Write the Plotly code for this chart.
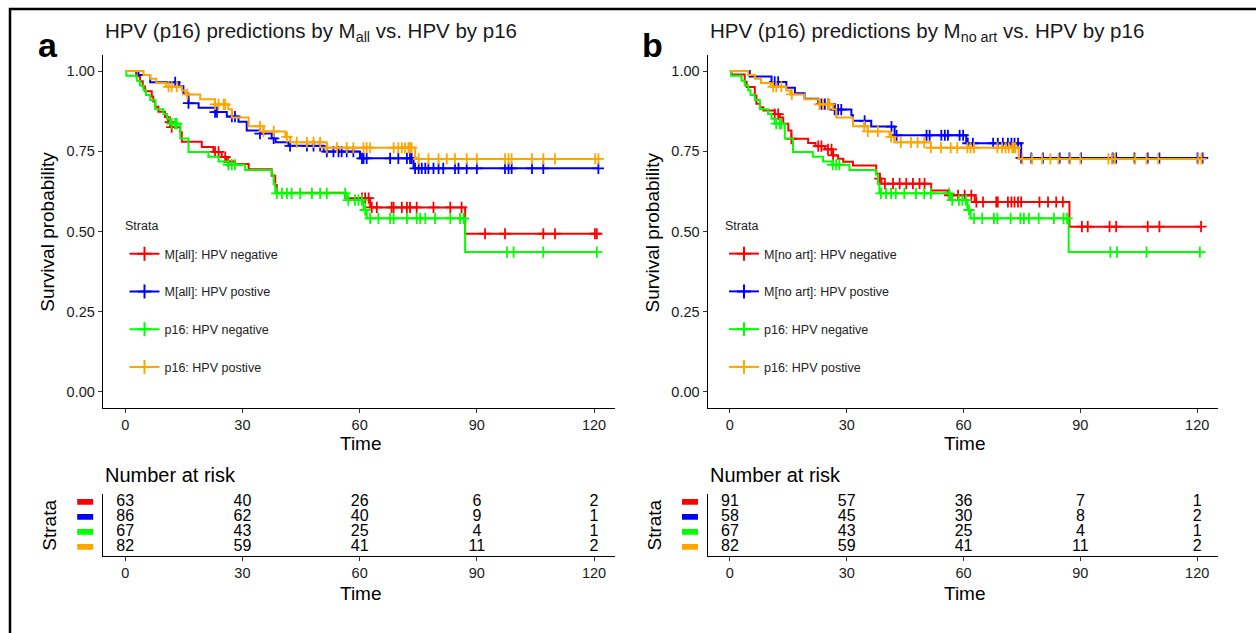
import plotly.graph_objects as go

W, H = 1256, 633
FONT = "Liberation Sans, Arial, sans-serif"

# ---------------- Kaplan-Meier data ----------------
# event times, survival just after each event, and censoring times

# M_all : HPV negative
mall_neg_t = [2.8, 3.8, 4.5, 5.1, 6.8, 7.2, 7.7, 8.5, 10.2, 11.0, 11.9, 14.1, 14.5, 19.6,
              22.6, 24.7, 26.0, 28.1, 31.6, 37.5, 38.4, 38.8, 56.3, 62.7, 87.0]
mall_neg_s = [0.984, 0.968, 0.952, 0.937, 0.921, 0.905, 0.889, 0.873, 0.857, 0.841, 0.825,
              0.809, 0.780, 0.763, 0.748, 0.732, 0.718, 0.710, 0.694, 0.674, 0.645, 0.621,
              0.604, 0.575, 0.493]
mall_neg_c = [11.5, 11.9, 23.0, 23.9, 25.6, 26.4, 60.6, 61.4, 62.3, 63.1, 64.4, 68.2, 68.7,
              70.8, 72.1, 72.9, 74.6, 78.9, 83.2, 86.1, 92.1, 97.2, 107.0, 110.0, 120.2, 120.7]

# M_all : HPV positive
mall_pos_t = [3.4, 6.4, 13.8, 14.9, 16.2, 18.8, 23.0, 26.0, 29.0, 31.1, 34.5, 37.5, 38.5,
              41.8, 50.8, 60.1, 73.8]
mall_pos_s = [0.988, 0.965, 0.953, 0.930, 0.900, 0.886, 0.872, 0.858, 0.842, 0.815, 0.805,
              0.790, 0.778, 0.767, 0.749, 0.728, 0.697]
mall_pos_c = [12.8, 16.2, 23.0, 23.5, 27.3, 28.1, 34.5, 38.0, 42.2, 46.5, 48.2, 49.9, 51.6,
              53.3, 54.6, 55.4, 56.7, 58.4, 60.6, 61.0, 61.8, 67.8, 69.9, 72.1, 72.9, 73.3,
              74.2, 75.1, 75.9, 76.8, 77.6, 78.9, 80.2, 81.4, 84.4, 85.3, 87.4, 90.0, 97.2,
              98.1, 98.9, 104.1, 107.0, 121.1]

# p16 : HPV negative
p16_neg_t = [0.3, 3.0, 3.8, 4.7, 5.3, 6.4, 7.7, 9.8, 10.7, 11.5, 14.1, 16.2, 21.3, 23.9,
             26.4, 30.7, 37.5, 38.0, 38.4, 56.7, 61.0, 61.8, 87.0]
p16_neg_s = [0.985, 0.970, 0.955, 0.940, 0.925, 0.910, 0.881, 0.866, 0.851, 0.836, 0.790,
             0.748, 0.733, 0.718, 0.708, 0.692, 0.678, 0.648, 0.619, 0.598, 0.567, 0.541, 0.436]
p16_neg_c = [11.9, 12.8, 13.2, 26.4, 27.3, 28.1, 38.8, 40.1, 41.4, 42.6, 44.8, 47.8, 49.9,
             51.6, 56.3, 57.1, 58.8, 59.7, 60.6, 61.4, 62.7, 64.8, 67.8, 68.7, 72.1, 74.6,
             75.5, 76.8, 79.3, 83.2, 85.7, 86.6, 97.7, 99.4, 107.0, 120.7]

# p16 : HPV positive
p16_pos_t = [4.7, 6.4, 8.0, 10.5, 14.5, 15.5, 19.2, 23.0, 26.4, 27.3, 31.6, 35.4, 41.0,
             42.2, 51.6, 74.2]
p16_pos_s = [0.988, 0.976, 0.963, 0.951, 0.939, 0.927, 0.912, 0.896, 0.881, 0.855, 0.828,
             0.812, 0.795, 0.778, 0.761, 0.726]
p16_pos_c = [11.1, 11.9, 13.2, 15.9, 23.0, 23.9, 25.2, 25.6, 34.5, 35.4, 38.0, 41.4, 43.9,
             46.5, 48.2, 49.9, 51.6, 54.2, 56.7, 58.4, 61.0, 61.8, 62.7, 68.7, 69.9, 70.8,
             71.6, 72.5, 72.9, 73.3, 75.1, 77.6, 80.2, 82.3, 84.4, 87.4, 90.0, 97.2, 98.1,
             98.9, 104.1, 107.0, 110.0, 120.3, 121.1]

# M_no art : HPV negative
noart_neg_t = [0.4, 3.8, 4.3, 6.4, 6.8, 7.7, 8.6, 11.5, 12.8, 13.7, 15.0, 15.8, 20.1, 22.0,
               24.4, 26.5, 27.8, 29.1, 31.6, 37.6, 38.5, 38.9, 51.7, 56.0, 62.9, 87.2]
noart_neg_s = [0.989, 0.967, 0.950, 0.924, 0.898, 0.887, 0.877, 0.866, 0.855, 0.836, 0.815,
               0.789, 0.776, 0.766, 0.756, 0.737, 0.727, 0.717, 0.706, 0.680, 0.665, 0.649,
               0.628, 0.613, 0.592, 0.515]
noart_neg_c = [11.5, 12.4, 15.8, 22.7, 23.5, 25.2, 26.1, 26.5, 38.5, 39.8, 41.9, 43.6, 45.3,
               47.0, 48.7, 50.0, 56.4, 58.6, 60.3, 62.0, 63.3, 65.0, 68.4, 68.8, 71.4, 72.3,
               73.1, 74.0, 74.8, 79.5, 81.7, 83.8, 85.5, 90.4, 91.9, 97.5, 99.2, 107.3, 110.3,
               121.0]

# M_no art : HPV positive
noart_pos_t = [5.1, 10.7, 14.5, 16.7, 19.2, 22.7, 26.9, 31.2, 31.6, 36.3, 42.3, 60.7, 74.8]
noart_pos_s = [0.983, 0.966, 0.948, 0.931, 0.914, 0.897, 0.880, 0.862, 0.845, 0.827, 0.800,
               0.775, 0.729]
noart_pos_c = [11.5, 12.4, 23.5, 24.4, 25.2, 26.9, 27.8, 28.6, 34.6, 41.5, 42.8, 50.5, 51.3,
               54.3, 55.2, 56.0, 59.0, 59.9, 61.1, 62.4, 67.6, 68.8, 70.1, 71.4, 72.3, 73.1,
               74.0, 74.8, 77.4, 80.4, 84.7, 87.2, 90.2, 98.3, 99.2, 103.9, 107.3, 110.3,
               120.1, 121.4]

# ---------------- numbers at risk ----------------
risk_times = [0, 30, 60, 90, 120]
risk_mall_neg = [63, 40, 26, 6, 2]
risk_mall_pos = [86, 62, 40, 9, 1]
risk_p16_neg = [67, 43, 25, 4, 1]
risk_p16_pos = [82, 59, 41, 11, 2]
risk_noart_neg = [91, 57, 36, 7, 1]
risk_noart_pos = [58, 45, 30, 8, 2]

RED, BLUE, GREEN, ORANGE = "#FF0000", "#0000FF", "#00FF00", "#FFA500"

xticks = [0, 30, 60, 90, 120]
yticks = [0, 0.25, 0.5, 0.75, 1.0]
ytick_text = ["0.00", "0.25", "0.50", "0.75", "1.00"]


def surv_at(t, times, surv):
    s = 1.0
    for ti, si in zip(times, surv):
        if ti <= t:
            s = si
        else:
            break
    return s


def px_x(p):
    return p / W


def px_y(p):
    return 1 - p / H


fig = go.Figure()

panels = [
    dict(tag="a", xa="x", ya="y", xt="x3", yt="y3", legend="legend", left=102.7, right=615.0,
         sub="all", leg_x=124.5, strata_x=123.0,
         series=[(mall_neg_t, mall_neg_s, mall_neg_c, RED, "M[all]: HPV negative", risk_mall_neg),
                 (mall_pos_t, mall_pos_s, mall_pos_c, BLUE, "M[all]: HPV postive", risk_mall_pos),
                 (p16_neg_t, p16_neg_s, p16_neg_c, GREEN, "p16: HPV negative", risk_p16_neg),
                 (p16_pos_t, p16_pos_s, p16_pos_c, ORANGE, "p16: HPV postive", risk_p16_pos)]),
    dict(tag="b", xa="x2", ya="y2", xt="x4", yt="y4", legend="legend2", left=707.5, right=1218.0,
         sub="no art", leg_x=724.0, strata_x=723.0,
         series=[(noart_neg_t, noart_neg_s, noart_neg_c, RED, "M[no art]: HPV negative", risk_noart_neg),
                 (noart_pos_t, noart_pos_s, noart_pos_c, BLUE, "M[no art]: HPV postive", risk_noart_pos),
                 (p16_neg_t, p16_neg_s, p16_neg_c, GREEN, "p16: HPV negative", risk_p16_neg),
                 (p16_pos_t, p16_pos_s, p16_pos_c, ORANGE, "p16: HPV postive", risk_p16_pos)]),
]

shapes = []
annotations = []
layout_axes = {}
legends = {}

PLOT_TOP, PLOT_BOT = 55.0, 408.0
TAB_TOP, TAB_BOT = 494.0, 555.7

legend_common = dict(font=dict(family=FONT, size=12.5, color="#222222"),
                     bgcolor="rgba(0,0,0,0)", borderwidth=0, tracegroupgap=18.5,
                     xanchor="left", yanchor="top", itemclick=False)

for k, p in enumerate(panels):
    for i, (t, s, c, col, label, risk) in enumerate(p["series"]):
        end = max(c + t)
        fig.add_trace(go.Scatter(
            x=[0] + t + [end], y=[1.0] + s + [s[-1]], mode="lines",
            line=dict(color=col, width=2, shape="hv"),
            xaxis=p["xa"], yaxis=p["ya"], showlegend=False, hoverinfo="skip"))
        fig.add_trace(go.Scatter(
            x=c, y=[surv_at(ci, t, s) for ci in c], mode="markers",
            marker=dict(symbol="cross-thin", size=8, line=dict(color=col, width=1.8)),
            xaxis=p["xa"], yaxis=p["ya"], showlegend=False, hoverinfo="skip"))
        # legend key
        fig.add_trace(go.Scatter(
            x=[None], y=[None], mode="lines+markers", name=label,
            line=dict(color=col, width=2),
            marker=dict(symbol="cross-thin", size=10, line=dict(color=col, width=2)),
            xaxis=p["xa"], yaxis=p["ya"], legend=p["legend"], legendgroup=f"{p['tag']}{i}",
            showlegend=True))
        # risk table row
        row = 4 - i
        fig.add_trace(go.Scatter(
            x=risk_times, y=[row] * len(risk_times), mode="text",
            text=[str(v) for v in risk], textposition="middle center",
            textfont=dict(family=FONT, size=16, color="#000000"),
            xaxis=p["xt"], yaxis=p["yt"], showlegend=False, hoverinfo="skip"))
        shapes.append(dict(type="rect", xref="paper", yref=p["yt"],
                           x0=px_x(p["left"] - 25.5), x1=px_x(p["left"] - 9.5),
                           y0=row - 0.19, y1=row + 0.19,
                           fillcolor=col, line=dict(width=0)))

    left, right = p["left"], p["right"]
    xr = [-5.75, 125.35]
    common_x = dict(domain=[px_x(left), px_x(right)], range=xr, tickvals=xticks,
                    ticks="outside", ticklen=4, tickwidth=1, tickcolor="#333333",
                    showline=True, linecolor="#000000", linewidth=1, showgrid=False,
                    zeroline=False, tickfont=dict(family=FONT, size=14.5, color="#1a1a1a"))
    xn = p["xa"].replace("x", "xaxis")
    yn = p["ya"].replace("y", "yaxis")
    xtn = p["xt"].replace("x", "xaxis")
    ytn = p["yt"].replace("y", "yaxis")
    layout_axes[xn] = dict(common_x, anchor=p["ya"])
    layout_axes[yn] = dict(domain=[px_y(PLOT_BOT), px_y(PLOT_TOP)], range=[-0.05, 1.05],
                           anchor=p["xa"], tickvals=yticks, ticktext=ytick_text,
                           ticks="outside", ticklen=4, tickwidth=1, tickcolor="#333333",
                           showline=True, linecolor="#000000", linewidth=1, showgrid=False,
                           zeroline=False, tickfont=dict(family=FONT, size=14.5, color="#1a1a1a"))
    layout_axes[xtn] = dict(common_x, anchor=p["yt"])
    layout_axes[ytn] = dict(domain=[px_y(TAB_BOT), px_y(TAB_TOP)], range=[0.42, 4.52],
                            anchor=p["xt"], showticklabels=False, ticks="",
                            showline=True, linecolor="#000000", linewidth=1, showgrid=False,
                            zeroline=False)
    legends[p["legend"]] = dict(legend_common, x=px_x(p["leg_x"]), y=px_y(239))

    cx = (left + right) / 2 + 2
    annotations += [
        dict(text=f"HPV (p16) predictions by M<sub>{p['sub']}</sub> vs. HPV by p16",
             x=px_x(left), y=px_y(32), xanchor="left", yanchor="middle",
             font=dict(family=FONT, size=20.5, color="#1a1a1a")),
        dict(text=f"<b>{p['tag']}</b>", x=px_x(left - 55), y=px_y(45),
             xanchor="center", yanchor="middle",
             font=dict(family=FONT, size=34, color="#000000")),
        dict(text="Survival probability", x=px_x(left - 55), y=px_y(232), textangle=-90,
             xanchor="center", yanchor="middle", font=dict(family=FONT, size=19, color="#000000")),
        dict(text="Time", x=px_x(cx), y=px_y(443), xanchor="center", yanchor="middle",
             font=dict(family=FONT, size=19, color="#000000")),
        dict(text="Number at risk", x=px_x(left), y=px_y(475), xanchor="left",
             yanchor="middle", font=dict(family=FONT, size=20, color="#000000")),
        dict(text="Strata", x=px_x(left - 54), y=px_y(525), textangle=-90,
             xanchor="center", yanchor="middle", font=dict(family=FONT, size=19, color="#000000")),
        dict(text="Time", x=px_x(cx), y=px_y(593), xanchor="center", yanchor="middle",
             font=dict(family=FONT, size=19, color="#000000")),
        dict(text="Strata", x=px_x(p["strata_x"]), y=px_y(226), xanchor="left", yanchor="middle",
             font=dict(family=FONT, size=12.5, color="#222222")),
    ]

for a in annotations:
    a.update(xref="paper", yref="paper", showarrow=False)

# outer frame
shapes.append(dict(type="rect", xref="paper", yref="paper", x0=px_x(10), x1=px_x(1262),
                   y0=px_y(642), y1=px_y(9), line=dict(color="#000000", width=2.5)))

fig.update_layout(
    width=W, height=H, margin=dict(l=0, r=0, t=0, b=0),
    paper_bgcolor="white", plot_bgcolor="white",
    showlegend=True,
    shapes=shapes, annotations=annotations,
    **legends,
    **layout_axes,
)

fig.write_html("out.html")
